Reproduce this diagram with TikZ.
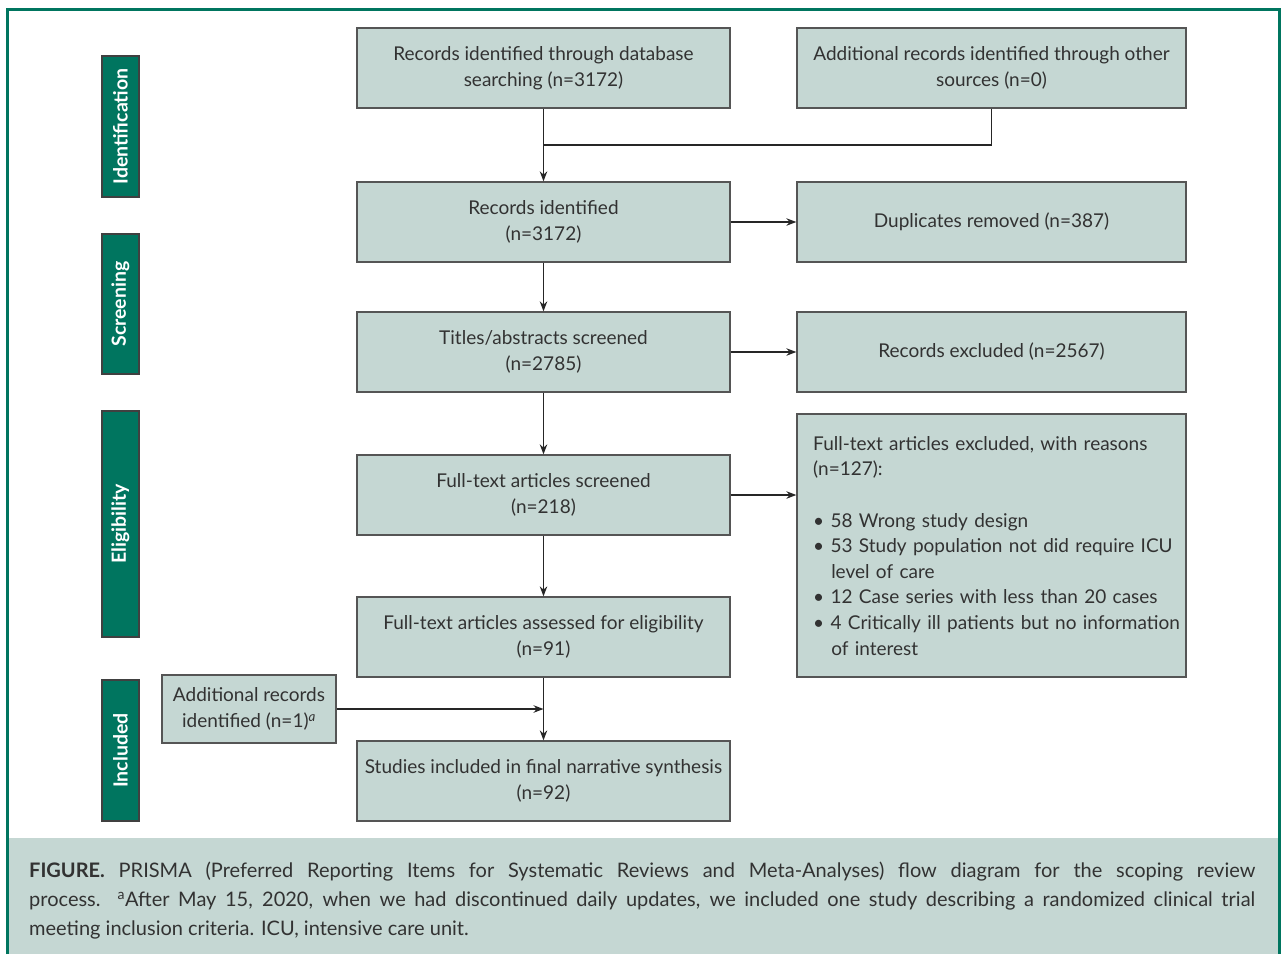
\documentclass[tikz,border=0pt]{standalone}
\usepackage{fontspec}
\setmainfont{Lato}
\setsansfont{Lato}
\newfontfamily\capfont{Lato}
\usetikzlibrary{arrows.meta}
\definecolor{teal}{RGB}{0,117,95}
\definecolor{boxfill}{RGB}{197,215,211}
\definecolor{boxline}{RGB}{85,85,85}
\definecolor{txt}{RGB}{50,50,50}
\tikzset{
  flowbox/.style={draw=boxline, fill=boxfill, line width=1.3pt, inner sep=0pt,
    text=txt, align=center, font=\fontsize{19}{26}\selectfont},
  phasebox/.style={draw=black!75, fill=teal, line width=1.2pt, inner sep=0pt,
    text=white, font=\fontsize{19.5}{22}\selectfont\bfseries, rotate=90},
  conn/.style={line width=1.3pt, draw=black!85, -{Stealth[length=10pt,width=7.5pt]}},
  plain/.style={line width=1.3pt, draw=black!85}
}
\begin{document}
\begin{tikzpicture}[x=1pt,y=-1pt]
\useasboundingbox (0,0) rectangle (1285,954);
% caption background
\fill[boxfill] (8,838) rectangle (1279,954);
% outer frame
\draw[teal, line width=3pt] (7.5,954) -- (7.5,9.5) -- (1279.5,9.5) -- (1279.5,954);
% phase boxes
\node[phasebox, minimum width=141pt, minimum height=37pt] (ph1) at (120.5,126.5) {Identification};
\node[phasebox, minimum width=140pt, minimum height=37pt] (ph2) at (120.5,304) {Screening};
\node[phasebox, minimum width=226pt, minimum height=37pt] (ph3) at (120.5,524) {Eligibility};
\node[phasebox, minimum width=141pt, minimum height=37pt] (ph4) at (120.5,750.5) {Included};
% main column
\node[flowbox, minimum width=373pt, minimum height=80pt] (b1) at (543.5,68) {Records identified through database\\searching (n=3172)};
\node[flowbox, minimum width=389pt, minimum height=80pt] (r1) at (991.5,68) {Additional records identified through other\\sources (n=0)};
\node[flowbox, minimum width=373pt, minimum height=80pt] (b2) at (543.5,222) {Records identified\\(n=3172)};
\node[flowbox, minimum width=389pt, minimum height=80pt] (r2) at (991.5,222) {Duplicates removed (n=387)};
\node[flowbox, minimum width=373pt, minimum height=80pt] (b3) at (543.5,352) {Titles/abstracts screened\\(n=2785)};
\node[flowbox, minimum width=389pt, minimum height=80pt] (r3) at (991.5,352) {Records excluded (n=2567)};
\node[flowbox, minimum width=373pt, minimum height=80pt] (b4) at (543.5,495) {Full-text articles screened\\(n=218)};
\node[flowbox, minimum width=389pt, minimum height=263pt] (r4) at (991.5,545.5) {};
\node[anchor=north west, inner sep=0pt, text=txt, align=left, text width=370pt,
  font=\fontsize{19}{25.6}\selectfont] (r4t) at (813,436)
  {Full-text articles excluded, with reasons\\(n=127):\\[25.6pt]
   \textbullet\ 58 Wrong study design\\
   \textbullet\ 53 Study population not did require ICU\\
   \hspace*{0.95em}level of care\\
   \textbullet\ 12 Case series with less than 20 cases\\
   \textbullet\ 4 Critically ill patients but no information\\
   \hspace*{0.95em}of interest};
\node[flowbox, minimum width=373pt, minimum height=80pt] (b5) at (543.5,637) {Full-text articles assessed for eligibility\\(n=91)};
\node[flowbox, minimum width=174pt, minimum height=68pt] (add) at (249,709) {Additional records\\identified (n=1)\textsuperscript{\itshape a}};
\node[flowbox, minimum width=373pt, minimum height=80pt] (b6) at (543.5,781) {Studies included in final narrative synthesis\\(n=92)};
% connectors
\coordinate (j1) at (543.5,145);
\coordinate (j2) at (543.5,709);
\draw[conn] (b1.south) -- (b2.north);
\draw[plain] (r1.south) |- (j1);
\draw[conn] (b2.east) -- (r2.west);
\draw[conn] (b2.south) -- (b3.north);
\draw[conn] (b3.east) -- (r3.west);
\draw[conn] (b3.south) -- (b4.north);
\draw[conn] (b4.east) -- (b4.east -| r4.west);
\draw[conn] (b4.south) -- (b5.north);
\draw[conn] (b5.south) -- (b6.north);
\draw[conn] (add.east) -- (j2);
% caption
\node[anchor=north west, inner sep=0pt, text width=1226pt, align=justify, text=txt,
  font=\capfont\fontsize{20}{29}\selectfont] (cap) at (29,862)
  {{\bfseries FIGURE.} PRISMA (Preferred Reporting Items for Systematic Reviews and Meta-Analyses) flow diagram for the scoping review\linebreak
  process. \textsuperscript{a}After May 15, 2020, when we had discontinued daily updates, we included one study describing a randomized clinical trial\linebreak
  meeting inclusion criteria. ICU, intensive care unit.\par};
\end{tikzpicture}
\end{document}
